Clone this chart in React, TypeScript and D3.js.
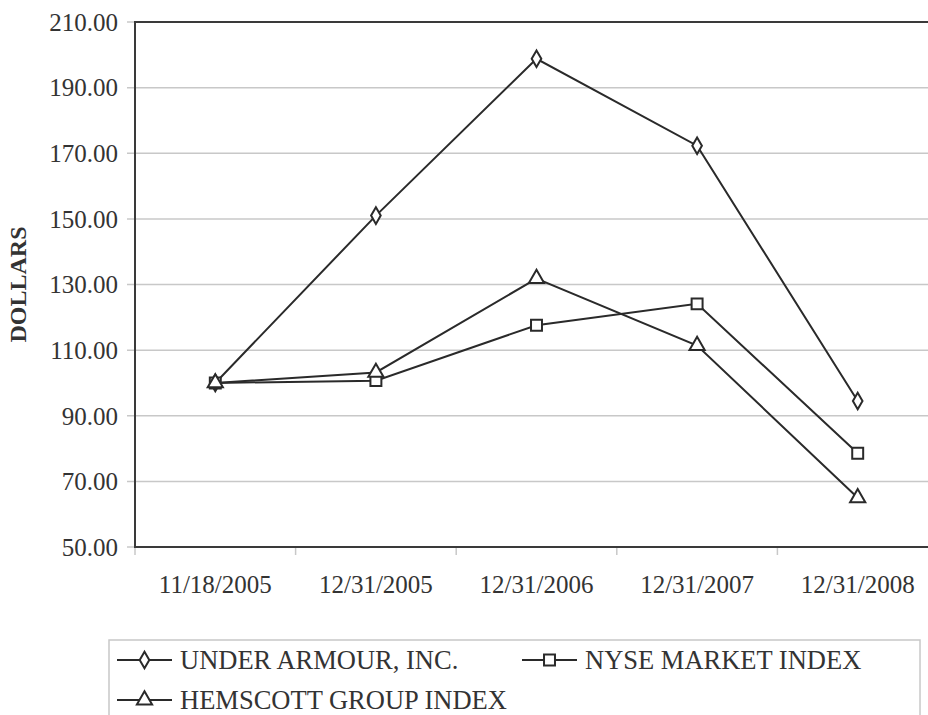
import * as d3 from "d3";
import { useEffect, useRef } from "react";

// values
const dates = ["11/18/2005", "12/31/2005", "12/31/2006", "12/31/2007", "12/31/2008"];
const underArmour = [100, 151, 198.8, 172.3, 94.5];
const nyse = [100, 100.7, 117.6, 124.1, 78.6];
const hemscott = [100, 103.2, 131.8, 111.4, 65];
const yTicks = [50, 70, 90, 110, 130, 150, 170, 190, 210];

const seriesNames = ["UNDER ARMOUR, INC.", "NYSE MARKET INDEX", "HEMSCOTT GROUP INDEX"];
const seriesSymbols = ["diamond", "square", "triangle"];

export default function App() {
  const ref = useRef<SVGSVGElement>(null);

  useEffect(() => {
    const width = 928;
    const height = 715;
    const left = 135, top = 22, right = 938, bottom = 547;
    const font = "Liberation Serif, DejaVu Serif, serif";

    const svg = d3.select(ref.current)
      .attr("width", width)
      .attr("height", height);
    svg.selectAll("*").remove();

    const x = d3.scaleBand().domain(dates).range([left, right]);
    const y = d3.scaleLinear().domain([50, 210]).range([bottom, top]);

    // grid
    svg.append("g")
      .selectAll("line")
      .data(yTicks)
      .enter()
      .append("line")
      .attr("x1", left - 8)
      .attr("x2", right)
      .attr("y1", d => y(d))
      .attr("y2", d => y(d))
      .attr("stroke", "#c8c8c8")
      .attr("stroke-width", 1.5);

    // x ticks at band edges
    svg.append("g")
      .selectAll("line")
      .data(dates)
      .enter()
      .append("line")
      .attr("x1", d => x(d)!)
      .attr("x2", d => x(d)!)
      .attr("y1", bottom)
      .attr("y2", bottom + 8)
      .attr("stroke", "#c8c8c8")
      .attr("stroke-width", 1.5);

    // frame
    svg.append("path")
      .attr("d", `M${right},${top}H${left}V${bottom}H${right}`)
      .attr("fill", "none")
      .attr("stroke", "#3a3a3a")
      .attr("stroke-width", 2);

    // y labels
    svg.append("g")
      .selectAll("text")
      .data(yTicks)
      .enter()
      .append("text")
      .attr("x", left - 17)
      .attr("y", d => y(d))
      .attr("dy", "0.35em")
      .attr("text-anchor", "end")
      .style("font-family", font)
      .style("font-size", "25px")
      .attr("fill", "#333")
      .text(d => d.toFixed(2));

    // x labels
    svg.append("g")
      .selectAll("text")
      .data(dates)
      .enter()
      .append("text")
      .attr("x", d => x(d)! + x.bandwidth() / 2)
      .attr("y", bottom + 37)
      .attr("dy", "0.35em")
      .attr("text-anchor", "middle")
      .style("font-family", font)
      .style("font-size", "25px")
      .attr("fill", "#333")
      .text(d => d);

    svg.append("text")
      .attr("transform", `translate(26,${(top + bottom) / 2}) rotate(-90)`)
      .attr("text-anchor", "middle")
      .style("font-family", font)
      .style("font-size", "24px")
      .attr("font-weight", "bold")
      .attr("fill", "#333")
      .text("DOLLARS");

    const symbolFor = (s: string) =>
      s === "diamond"
        ? d3.symbol().type(d3.symbolDiamond).size(80)()
        : s === "square"
        ? d3.symbol().type(d3.symbolSquare).size(120)()
        : d3.symbol().type(d3.symbolTriangle).size(100)();

    const allSeries = [underArmour, nyse, hemscott];
    const line = d3.line<number>()
      .x((_, i) => x(dates[i])! + x.bandwidth() / 2)
      .y(d => y(d));

    allSeries.forEach((vals, si) => {
      svg.append("path")
        .attr("d", line(vals))
        .attr("fill", "none")
        .attr("stroke", "#2a2a2a")
        .attr("stroke-width", 2);
      svg.append("g")
        .selectAll("path")
        .data(vals)
        .enter()
        .append("path")
        .attr("transform", (d, i) => `translate(${x(dates[i])! + x.bandwidth() / 2},${y(d)})`)
        .attr("d", symbolFor(seriesSymbols[si]))
        .attr("fill", "#fff")
        .attr("stroke", "#2a2a2a")
        .attr("stroke-width", 2);
    });

    // legend
    svg.append("rect")
      .attr("x", 109)
      .attr("y", 640)
      .attr("width", 811)
      .attr("height", 100)
      .attr("fill", "none")
      .attr("stroke", "#c8c8c8")
      .attr("stroke-width", 1.5);

    const legendPos = [[117, 660], [522, 660], [117, 700]];
    seriesNames.forEach((name, i) => {
      const [lx, ly] = legendPos[i];
      const g = svg.append("g").attr("transform", `translate(${lx},${ly})`);
      g.append("line")
        .attr("x1", 0).attr("x2", 55)
        .attr("stroke", "#2a2a2a")
        .attr("stroke-width", 2);
      g.append("path")
        .attr("transform", "translate(27.5,0)")
        .attr("d", symbolFor(seriesSymbols[i]))
        .attr("fill", "#fff")
        .attr("stroke", "#2a2a2a")
        .attr("stroke-width", 2);
      g.append("text")
        .attr("x", 63)
        .attr("dy", "0.35em")
        .style("font-family", font)
        .style("font-size", "26.5px")
        .attr("fill", "#333")
        .text(name);
    });
  }, []);

  return (
    <div>
      <svg ref={ref} style={{ position: "absolute", left: 0, top: 0 }}></svg>
    </div>
  );
}
